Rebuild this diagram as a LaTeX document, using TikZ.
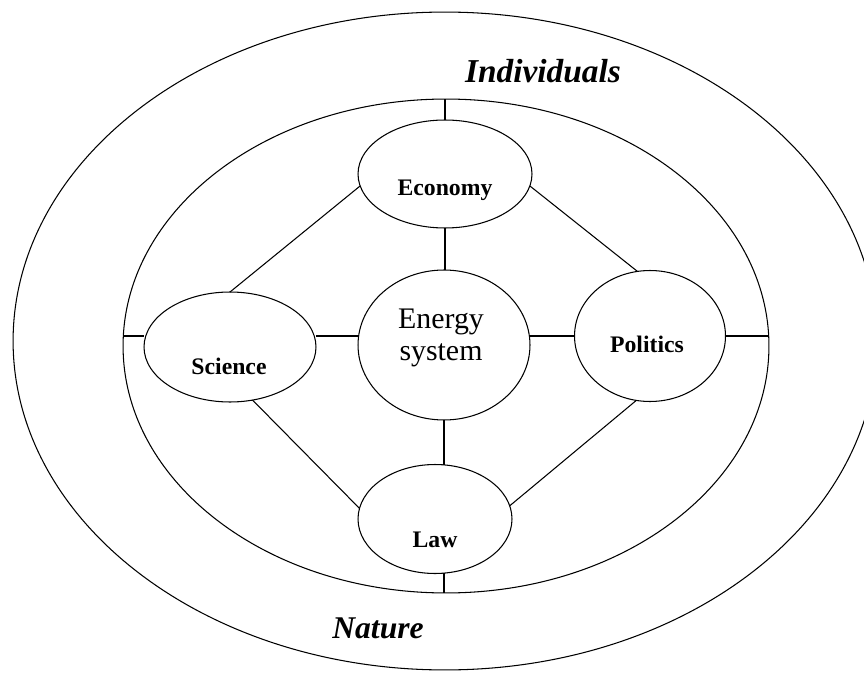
\documentclass[tikz,border=0pt]{standalone}
\usepackage{fontspec}
\setmainfont{Liberation Serif}
\usepackage{tikz}
\usetikzlibrary{shapes.geometric,calc}

\tikzset{
  ring/.style={draw, ellipse, inner sep=0pt, outer sep=0pt, line width=0.6pt},
  field/.style={font=\fontsize{13.5}{15}\selectfont\bfseries, anchor=base, inner sep=0pt},
  world/.style={font=\fontsize{19}{21}\selectfont\bfseries\itshape, anchor=base, inner sep=0pt},
  link/.style={line width=0.6pt}
}

\begin{document}
\begin{tikzpicture}[x=0.02cm, y=-0.02cm]
        \useasboundingbox (0,0) rectangle (864,675);

        % Rings
        \node[ring, minimum width=17.28cm, minimum height=13.16cm] (outer) at (445,341) {};
        \node[ring, minimum width=12.92cm, minimum height=9.88cm] (inner) at (446,346) {};

        % Fields
        \node[ring, minimum width=3.48cm, minimum height=2.16cm] (economy) at (445,174) {};
        \node[ring, minimum width=3.44cm, minimum height=2.2cm] (science) at (230,347) {};
        \node[ring, minimum width=3.44cm, minimum height=3.0cm] (energy) at (444,345) {};
        \node[ring, minimum width=3.02cm, minimum height=2.62cm] (politics) at (650,336) {};
        \node[ring, minimum width=3.08cm, minimum height=2.18cm] (law) at (435,519) {};

        % Labels
        \node[field] (economyText) at (445,196) {Economy};
        \node[field] (scienceText) at (229,374) {Science};
        \node[field] (politicsText) at (647,352) {Politics};
        \node[field] (lawText) at (435,547) {Law};
        \node[font=\fontsize{17}{18}\selectfont, align=center, inner sep=0pt]
          (energyText) at (441,338) {Energy\\system};
        \node[world] (individuals) at (543,83) {Individuals};
        \node[world, font=\fontsize{18}{20}\selectfont\bfseries\itshape]
          (nature) at (378,638) {Nature};

        % Spokes
        \draw[link] (economy.north) -- (economy.north |- inner.north);
        \draw[link] (economy.south) -- (economy.south |- energy.north);
        \draw[link] (energy.south) -- (energy.south |- law.north);
        \draw[link] (energy.south |- law.south) -- (energy.south |- inner.south);
        \draw[link] (inner.west |- politics.west) -- (science.west |- politics.west);
        \draw[link] (science.east |- politics.west) -- (energy.west |- politics.west);
        \draw[link] (energy.east |- politics.west) -- (politics.west);
        \draw[link] (politics.east) -- (politics.east -| inner.east);

        % Diagonals
        \draw[link] (economy.188) -- (science.north);
        \draw[link] (economy.-8) -- (politics.101);
        \draw[link] (science.-67) -- (law.172);
        \draw[link] (politics.-102) -- (law.10);
\end{tikzpicture}
\end{document}
